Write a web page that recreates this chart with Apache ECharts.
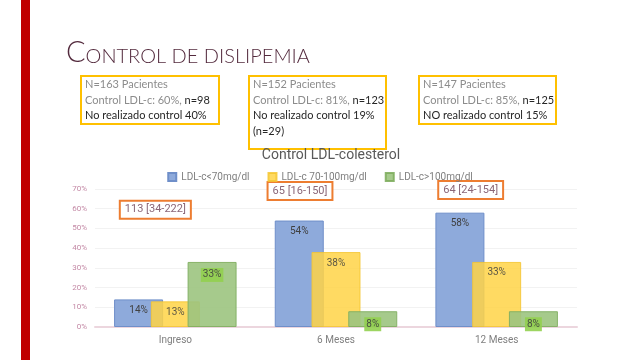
<!DOCTYPE html>
<html>
<head>
<meta charset="utf-8">
<script src="https://cdn.jsdelivr.net/npm/echarts@6/dist/echarts.min.js"></script>
<style>
  html, body { margin: 0; padding: 0; background: #fff; }
  #main { width: 640px; height: 360px; }
</style>
</head>
<body>
<div id="main"></div>
<script>
// datos
const categories = ['Ingreso', '6 Meses', '12 Meses'];
const seriesNames = ['LDL-c<70mg/dl', 'LDL-c 70-100mg/dl', 'LDL-c>100mg/dl'];
const lowValues = [14, 54, 58];
const midValues = [13, 38, 33];
const highValues = [33, 8, 8];
const medianLabels = ['113 [34-222]', '65 [16-150]', '64 [24-154]'];
const medianLevels = [59.5, 69, 69.5];
const medianShift = [-20, -36, -26];

// cajas de cohortes
const cohortTotals = [163, 152, 147];
const controlPct = [60, 81, 85];
const controlN = [98, 123, 125];
const notDoneText = ['No realizado control 40%', 'No realizado control 19%\n(n=29)', 'NO realizado control 15%'];

const chart = echarts.init(document.getElementById('main'));

const colors = ['#8eaadb', '#ffd347', '#9cc47f'];
const borders = ['#6f8fc9', '#f5c531', '#7fae5f'];

const labelCommon = {
  show: true,
  position: 'insideTop',
  distance: 6,
  fontSize: 10,
  color: '#404040',
  fontFamily: 'Roboto, sans-serif',
  formatter: '{c}%'
};

const boxLeft = [80, 248, 418];
const boxWidth = [138, 137, 137];
const boxHeight = [48, 73, 48];

const graphics = [
  { type: 'rect', left: 21, top: 0, shape: { width: 9, height: 360 }, style: { fill: '#c00000' } }
];
cohortTotals.forEach((n, i) => {
  graphics.push({
    type: 'rect', left: boxLeft[i], top: 75,
    shape: { width: boxWidth[i], height: boxHeight[i] },
    style: { fill: '#fff', stroke: '#ffc000', lineWidth: 2 }
  });
  graphics.push({
    type: 'text', left: boxLeft[i] + 5, top: 79,
    style: {
      text: '{g|N=' + n + ' Pacientes}\n{g|Control LDL-c: ' + controlPct[i] + '%, }{k|n=' + controlN[i] + '}\n' +
        notDoneText[i].split('\n').map(t => '{k|' + t + '}').join('\n'),
      rich: {
        g: { fontSize: 11, fill: '#8c8c8c', fontFamily: 'Lato, sans-serif', lineHeight: 15.5 },
        k: { fontSize: 11, fill: '#262626', fontFamily: 'Lato, sans-serif', lineHeight: 15.5 }
      }
    }
  });
});

chart.setOption({
  animation: false,
  title: [{
    text: '{a|C}{b|ONTROL DE DISLIPEMIA}',
    left: 61, top: 33,
    textStyle: {
      rich: {
        a: { fontSize: 29, color: '#532a3d', fontFamily: 'Lato, sans-serif', fontWeight: 300 },
        b: { fontSize: 20, color: '#532a3d', fontFamily: 'Lato, sans-serif', fontWeight: 300, verticalAlign: 'bottom' }
      }
    }
  }, {
    text: 'Control LDL-colesterol',
    left: 326, top: 143, textAlign: 'center',
    textStyle: { fontSize: 14, fontWeight: 'normal', color: '#595959', fontFamily: 'Roboto, sans-serif' }
  }],
  legend: {
    data: seriesNames,
    left: 'center', top: 167,
    icon: 'rect', itemWidth: 8, itemHeight: 8, itemGap: 18,
    textStyle: { fontSize: 10, color: '#7f7f7f', fontFamily: 'Roboto, sans-serif' }
  },
  grid: { left: 95, right: 63, top: 189, bottom: 33 },
  xAxis: {
    type: 'category',
    data: categories,
    axisLine: { lineStyle: { color: '#ecd6de', width: 2 } },
    axisTick: { show: false },
    axisLabel: { color: '#7f7f7f', fontSize: 10, margin: 8, fontFamily: 'Roboto, sans-serif' }
  },
  yAxis: {
    type: 'value', min: 0, max: 70, interval: 10,
    axisLine: { show: false },
    axisTick: { show: false },
    axisLabel: { formatter: '{value}%', color: '#c48aa6', fontSize: 8, margin: 8, fontFamily: 'Roboto, sans-serif' },
    splitLine: { lineStyle: { color: '#f2f2f2' } }
  },
  graphic: graphics,
  series: [
    {
      name: seriesNames[0], type: 'bar', data: lowValues,
      barWidth: 49, barGap: '-25%',
      itemStyle: { color: colors[0], borderColor: borders[0], borderWidth: 1 },
      label: labelCommon
    },
    {
      name: seriesNames[1], type: 'bar', data: midValues,
      barWidth: 49, barGap: '-25%',
      itemStyle: { color: colors[1], borderColor: borders[1], borderWidth: 1, opacity: 0.85 },
      label: labelCommon
    },
    {
      name: seriesNames[2], type: 'bar', data: highValues,
      barWidth: 49, barGap: '-25%',
      itemStyle: { color: colors[2], borderColor: borders[2], borderWidth: 1, opacity: 0.9 },
      label: Object.assign({}, labelCommon, { backgroundColor: '#92d050', padding: [2, 2] })
    },
    {
      name: 'mediana', type: 'scatter', symbolSize: 0, silent: true,
      itemStyle: { opacity: 1 },
      data: categories.map((c, i) => ({
        value: [c, medianLevels[i]],
        label: { offset: [medianShift[i], 0] }
      })),
      label: {
        show: true, position: 'inside',
        formatter: p => medianLabels[p.dataIndex],
        color: '#8a6779', fontSize: 11, fontFamily: 'Roboto, sans-serif',
        borderColor: '#ed7d31', borderWidth: 2, padding: [3, 4, 2, 4],
        backgroundColor: '#fff'
      }
    }
  ]
});
</script>
</body>
</html>
